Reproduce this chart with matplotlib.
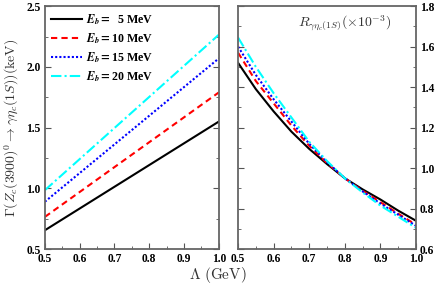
import matplotlib
matplotlib.use("Agg")
import matplotlib.pyplot as plt
from matplotlib.ticker import MultipleLocator

plt.rcParams['font.family'] = ['Liberation Serif', 'DejaVu Serif']
plt.rcParams['mathtext.fontset'] = 'cm'

# left panel: width vs Lambda (straight lines)
lam_left = [0.5, 1.0]
width_5 = [0.655, 1.55]
width_10 = [0.765, 1.79]
width_15 = [0.89, 2.07]
width_20 = [0.985, 2.265]

# right panel: ratio (x 10^-3) vs Lambda
lam_right = [0.5, 0.55, 0.6, 0.65, 0.7, 0.75, 0.8, 0.85, 0.9, 0.95, 1.0]
ratio_5 = [1.52, 1.39, 1.28, 1.18, 1.095, 1.02, 0.95, 0.895, 0.845, 0.79, 0.74]
ratio_10 = [1.57, 1.43, 1.32, 1.21, 1.11, 1.025, 0.95, 0.888, 0.832, 0.775, 0.72]
ratio_15 = [1.60, 1.46, 1.34, 1.23, 1.12, 1.03, 0.95, 0.885, 0.825, 0.77, 0.715]
ratio_20 = [1.645, 1.50, 1.37, 1.25, 1.13, 1.035, 0.95, 0.88, 0.815, 0.76, 0.705]

labels = [r"$\mathbfit{E_b}$$\mathbf{=}$  5 MeV", r"$\mathbfit{E_b}$$\mathbf{=}$10 MeV",
          r"$\mathbfit{E_b}$$\mathbf{=}$15 MeV", r"$\mathbfit{E_b}$$\mathbf{=}$20 MeV"]
styles = [("black", "-"), ("red", (0, (3, 2))), ("blue", (0, (1, 1))), ("cyan", (0, (5, 1.5, 1, 1.5)))]

fig = plt.figure(figsize=(4.36, 2.92), dpi=100)
ax1 = fig.add_axes([0.103, 0.147, 0.399, 0.832])
ax2 = fig.add_axes([0.546, 0.147, 0.408, 0.832])

for ys, (c, ls), lab in zip([width_5, width_10, width_15, width_20], styles, labels):
    ax1.plot(lam_left, ys, color=c, linestyle=ls, lw=1.5, label=lab)
for ys, (c, ls) in zip([ratio_5, ratio_10, ratio_15, ratio_20], styles):
    ax2.plot(lam_right, ys, color=c, linestyle=ls, lw=1.5)

ax1.set_xlim(0.5, 1.0)
ax1.set_ylim(0.5, 2.5)
ax1.xaxis.set_minor_locator(MultipleLocator(0.05))
ax1.yaxis.set_major_locator(MultipleLocator(0.5))
ax1.yaxis.set_minor_locator(MultipleLocator(0.25))
ax1.set_xticks([0.5, 0.6, 0.7, 0.8, 0.9, 1.0])
ax1.set_xticklabels(["0.5", "0.6", "0.7", "0.8", "0.9", "1.0"])

ax2.set_xlim(0.5, 1.0)
ax2.set_ylim(0.6, 1.8)
ax2.xaxis.set_minor_locator(MultipleLocator(0.05))
ax2.yaxis.set_major_locator(MultipleLocator(0.2))
ax2.yaxis.set_minor_locator(MultipleLocator(0.1))
ax2.set_xticks([0.5, 0.6, 0.7, 0.8, 0.9, 1.0])
ax2.set_xticklabels(["0.5", "0.6", "0.7", "0.8", "0.9", "1.0"])
ax2.yaxis.tick_right()

for ax in (ax1, ax2):
    ax.tick_params(which='both', direction='in', left=True, right=True, top=False,
                   labelsize=8.3, color='#555555', pad=3)
    ax.tick_params(which='major', length=4)
    ax.tick_params(which='minor', length=2)
    for sp in ax.spines.values():
        sp.set_color('#666666')
        sp.set_linewidth(1.3)
    for t in ax.get_xticklabels() + ax.get_yticklabels():
        t.set_fontweight('bold')
ax2.tick_params(labelleft=False, labelright=True)

leg = ax1.legend(loc='upper left', frameon=False, fontsize=8.6, handlelength=2.6,
                 borderaxespad=0.2, borderpad=0.3, labelspacing=0.35, handletextpad=0.3)
for t in leg.get_texts():
    t.set_fontweight('bold')
    t.set_math_fontfamily('stix')

ax1.set_ylabel(r"$\Gamma(Z_c(3900)^0 \to \gamma\eta_c(1S))(\mathrm{keV})$", fontsize=10,
               color='#333333', labelpad=4)
ax2.text(0.6, 0.93, r"$R_{\gamma\eta_c(1S)}(\times 10^{-3})$", transform=ax2.transAxes,
         ha='center', va='center', fontsize=10, color='#333333')
fig.text(0.5, 0.025, r"$\Lambda\ (\mathrm{GeV})$", ha='center', va='bottom', fontsize=11,
         color='#333333')

fig.savefig("out.png", dpi=100)
